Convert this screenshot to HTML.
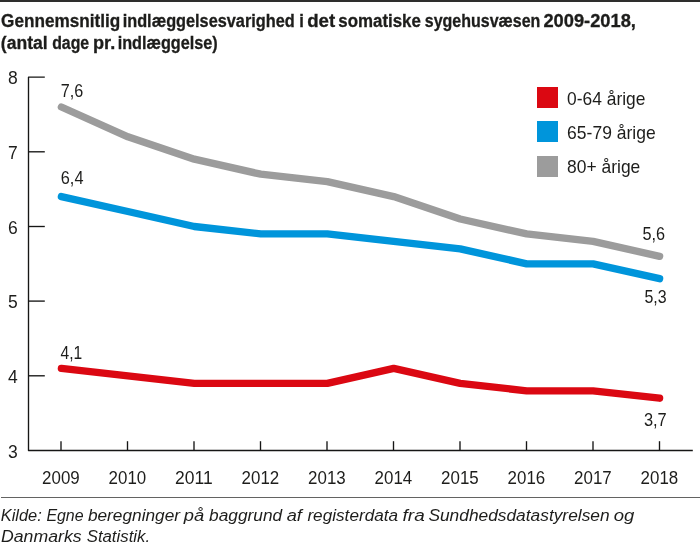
<!DOCTYPE html>
<html lang="da"><head><meta charset="utf-8"><title>Indlæggelsesvarighed</title>
<style>
html,body{margin:0;padding:0;background:#fff;}
body{width:700px;height:543px;position:relative;overflow:hidden;font-family:"Liberation Sans",sans-serif;color:#1d1d1b;}
.topline{position:absolute;left:0;top:0;width:700px;height:1.5px;background:#2e2e2d;}
.sep{position:absolute;left:1px;top:497px;width:699px;height:1px;background:#636362;}
svg text{font-family:"Liberation Sans",sans-serif;fill:#1d1d1b;white-space:pre;}
.title{font-weight:bold;font-size:17.6px;stroke:#1d1d1b;stroke-width:0.3px;}
.src{font-style:italic;font-size:17.4px;}
.lt{font-size:17.8px;}
.dl{font-size:17.6px;}
.lg{position:absolute;left:537.1px;width:20.9px;height:20.5px;}
</style></head><body>
<div class="topline"></div>
<svg width="700" height="543" viewBox="0 0 700 543" style="position:absolute;left:0;top:0">
<path d="M44.8 77.1H28.5V450.5H692.8" fill="none" stroke="#161615" stroke-width="1.35" stroke-linejoin="round"/>
<path d="M28.5 375.8H44.8" stroke="#161615" stroke-width="1.35"/>
<path d="M28.5 301.1H44.8" stroke="#161615" stroke-width="1.35"/>
<path d="M28.5 226.5H44.8" stroke="#161615" stroke-width="1.35"/>
<path d="M28.5 151.8H44.8" stroke="#161615" stroke-width="1.35"/>
<path d="M61.0 450.5V441.2" stroke="#161615" stroke-width="1.35"/>
<path d="M127.5 450.5V441.2" stroke="#161615" stroke-width="1.35"/>
<path d="M194.0 450.5V441.2" stroke="#161615" stroke-width="1.35"/>
<path d="M260.5 450.5V441.2" stroke="#161615" stroke-width="1.35"/>
<path d="M327.0 450.5V441.2" stroke="#161615" stroke-width="1.35"/>
<path d="M393.5 450.5V441.2" stroke="#161615" stroke-width="1.35"/>
<path d="M460.0 450.5V441.2" stroke="#161615" stroke-width="1.35"/>
<path d="M526.5 450.5V441.2" stroke="#161615" stroke-width="1.35"/>
<path d="M593.0 450.5V441.2" stroke="#161615" stroke-width="1.35"/>
<path d="M659.5 450.5V441.2" stroke="#161615" stroke-width="1.35"/>
<polyline points="61.4,107.0 127.9,136.8 194.3,159.2 260.8,174.2 327.3,181.7 393.7,196.6 460.2,219.0 526.7,233.9 593.1,241.4 659.6,256.3" fill="none" stroke="#9c9c9c" stroke-width="7.35" stroke-linecap="round" stroke-linejoin="round"/>
<polyline points="61.4,196.6 127.9,211.5 194.3,226.5 260.8,233.9 327.3,233.9 393.7,241.4 460.2,248.9 526.7,263.8 593.1,263.8 659.6,278.7" fill="none" stroke="#0095db" stroke-width="7.35" stroke-linecap="round" stroke-linejoin="round"/>
<polyline points="61.4,368.4 127.9,375.8 194.3,383.3 260.8,383.3 327.3,383.3 393.7,368.4 460.2,383.3 526.7,390.8 593.1,390.8 659.6,398.2" fill="none" stroke="#db0812" stroke-width="7.35" stroke-linecap="round" stroke-linejoin="round"/>
<g font-family="Liberation Sans, sans-serif" font-size="17.5" fill="#1d1d1b">
<text x="7.9" y="457.8">3</text>
<text x="7.9" y="383.1">4</text>
<text x="7.9" y="308.4">5</text>
<text x="7.9" y="233.8">6</text>
<text x="7.9" y="159.1">7</text>
<text x="7.9" y="84.4">8</text>
<text x="60.9" y="484.1" text-anchor="middle" textLength="37.6" lengthAdjust="spacingAndGlyphs">2009</text>
<text x="127.4" y="484.1" text-anchor="middle" textLength="37.6" lengthAdjust="spacingAndGlyphs">2010</text>
<text x="193.9" y="484.1" text-anchor="middle" textLength="37.6" lengthAdjust="spacingAndGlyphs">2011</text>
<text x="260.4" y="484.1" text-anchor="middle" textLength="37.6" lengthAdjust="spacingAndGlyphs">2012</text>
<text x="326.9" y="484.1" text-anchor="middle" textLength="37.6" lengthAdjust="spacingAndGlyphs">2013</text>
<text x="393.4" y="484.1" text-anchor="middle" textLength="37.6" lengthAdjust="spacingAndGlyphs">2014</text>
<text x="459.9" y="484.1" text-anchor="middle" textLength="37.6" lengthAdjust="spacingAndGlyphs">2015</text>
<text x="526.4" y="484.1" text-anchor="middle" textLength="37.6" lengthAdjust="spacingAndGlyphs">2016</text>
<text x="592.9" y="484.1" text-anchor="middle" textLength="37.6" lengthAdjust="spacingAndGlyphs">2017</text>
<text x="659.4" y="484.1" text-anchor="middle" textLength="37.6" lengthAdjust="spacingAndGlyphs">2018</text>
</g>
</svg>
<div class="lg" style="top:87.1px;background:#db0812"></div>
<div class="lg" style="top:121.1px;background:#0095db"></div>
<div class="lg" style="top:156.1px;background:#9c9c9c"></div>
<div class="sep"></div>
<svg width="700" height="543" viewBox="0 0 700 543" style="position:absolute;left:0;top:0">
<text class="title" y="26.9"><tspan x="1.1" textLength="119.2" lengthAdjust="spacingAndGlyphs">Gennemsnitlig</tspan> <tspan x="122.7" textLength="172.0" lengthAdjust="spacingAndGlyphs">indlæggelsesvarighed</tspan> <tspan x="299.3" textLength="4.6" lengthAdjust="spacingAndGlyphs">i</tspan> <tspan x="307.2" textLength="28.0" lengthAdjust="spacingAndGlyphs">det</tspan> <tspan x="338.3" textLength="82.6" lengthAdjust="spacingAndGlyphs">somatiske</tspan> <tspan x="424.8" textLength="115.6" lengthAdjust="spacingAndGlyphs">sygehusvæsen</tspan> <tspan x="543.4" textLength="92.5" lengthAdjust="spacingAndGlyphs">2009-2018,</tspan></text>
<text class="title" y="48.8"><tspan x="0.8" textLength="46.9" lengthAdjust="spacingAndGlyphs">(antal</tspan> <tspan x="52.2" textLength="37.0" lengthAdjust="spacingAndGlyphs">dage</tspan> <tspan x="93.0" textLength="22.2" lengthAdjust="spacingAndGlyphs">pr.</tspan> <tspan x="117.7" textLength="100.0" lengthAdjust="spacingAndGlyphs">indlæggelse)</tspan></text>
<text class="src" y="520.6"><tspan x="0.7" textLength="41.1" lengthAdjust="spacingAndGlyphs">Kilde:</tspan> <tspan x="46.4" textLength="37.2" lengthAdjust="spacingAndGlyphs">Egne</tspan> <tspan x="87.9" textLength="92.2" lengthAdjust="spacingAndGlyphs">beregninger</tspan> <tspan x="183.7" textLength="20.4" lengthAdjust="spacingAndGlyphs">på</tspan> <tspan x="209.1" textLength="73.1" lengthAdjust="spacingAndGlyphs">baggrund</tspan> <tspan x="286.7" textLength="15.2" lengthAdjust="spacingAndGlyphs">af</tspan> <tspan x="307.4" textLength="90.7" lengthAdjust="spacingAndGlyphs">registerdata</tspan> <tspan x="402.6" textLength="22.1" lengthAdjust="spacingAndGlyphs">fra</tspan> <tspan x="428.4" textLength="181.2" lengthAdjust="spacingAndGlyphs">Sundhedsdatastyrelsen</tspan> <tspan x="613.8" textLength="20.6" lengthAdjust="spacingAndGlyphs">og</tspan></text>
<text class="src" y="541.8"><tspan x="1.0" textLength="80.6" lengthAdjust="spacingAndGlyphs">Danmarks</tspan> <tspan x="86.7" textLength="63.4" lengthAdjust="spacingAndGlyphs">Statistik.</tspan></text>
<text class="lt" y="105"><tspan x="567.1" textLength="78.3" lengthAdjust="spacingAndGlyphs">0-64 årige</tspan></text>
<text class="lt" y="139"><tspan x="567.1" textLength="88.6" lengthAdjust="spacingAndGlyphs">65-79 årige</tspan></text>
<text class="lt" y="173.4"><tspan x="567.1" textLength="73.2" lengthAdjust="spacingAndGlyphs">80+ årige</tspan></text>
<text class="dl" y="97.4"><tspan x="60.8" textLength="22.5" lengthAdjust="spacingAndGlyphs">7,6</tspan></text>
<text class="dl" y="183.5"><tspan x="60.8" textLength="22.7" lengthAdjust="spacingAndGlyphs">6,4</tspan></text>
<text class="dl" y="358.8"><tspan x="60.6" textLength="21.7" lengthAdjust="spacingAndGlyphs">4,1</tspan></text>
<text class="dl" y="239.5"><tspan x="642.5" textLength="22.6" lengthAdjust="spacingAndGlyphs">5,6</tspan></text>
<text class="dl" y="302.5"><tspan x="644.4" textLength="22.2" lengthAdjust="spacingAndGlyphs">5,3</tspan></text>
<text class="dl" y="426.0"><tspan x="643.9" textLength="22.9" lengthAdjust="spacingAndGlyphs">3,7</tspan></text>
</svg>
</body></html>
